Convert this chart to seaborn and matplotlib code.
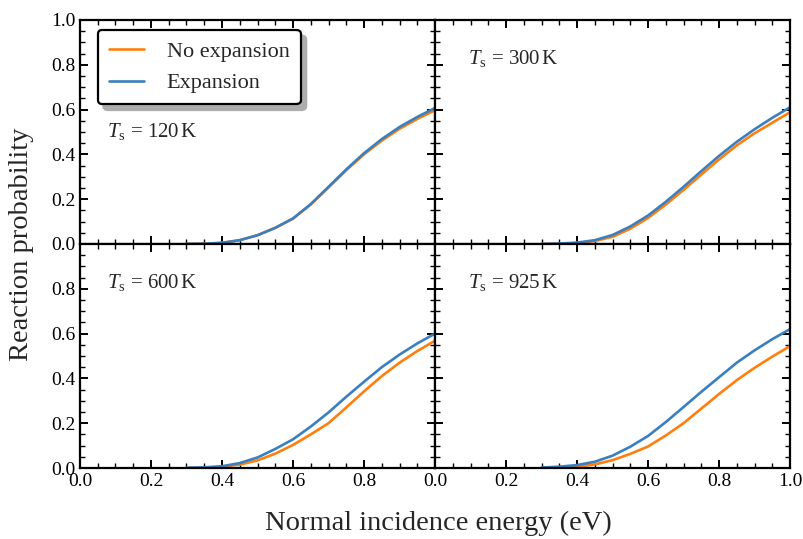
import numpy as np
import pandas as pd
import matplotlib
matplotlib.use("Agg")
import matplotlib.pyplot as plt
from matplotlib.ticker import MultipleLocator
import seaborn as sns

# Incidence energies (eV) shared by all curves
energy = [0.30, 0.35, 0.40, 0.45, 0.50, 0.55, 0.60, 0.65, 0.70,
          0.75, 0.80, 0.85, 0.90, 0.95, 1.00]

# Reaction probabilities per surface temperature
no_exp_120 = [0.0, 0.001, 0.005, 0.017, 0.039, 0.072, 0.113, 0.176, 0.252,
              0.329, 0.400, 0.461, 0.514, 0.558, 0.597]
exp_120 = [0.0, 0.001, 0.005, 0.017, 0.039, 0.072, 0.114, 0.178, 0.255,
           0.333, 0.405, 0.468, 0.522, 0.567, 0.607]

no_exp_300 = [0.0, 0.001, 0.004, 0.013, 0.032, 0.068, 0.116, 0.176, 0.241,
              0.310, 0.377, 0.440, 0.494, 0.541, 0.588]
exp_300 = [0.0, 0.002, 0.006, 0.017, 0.040, 0.078, 0.127, 0.188, 0.255,
           0.325, 0.393, 0.456, 0.512, 0.563, 0.610]

no_exp_600 = [0.0, 0.002, 0.005, 0.015, 0.034, 0.064, 0.103, 0.150, 0.200,
              0.270, 0.342, 0.410, 0.470, 0.522, 0.568]
exp_600 = [0.001, 0.003, 0.008, 0.022, 0.047, 0.085, 0.128, 0.185, 0.248,
           0.318, 0.385, 0.450, 0.506, 0.556, 0.600]

no_exp_925 = [0.0, 0.002, 0.006, 0.016, 0.035, 0.063, 0.096, 0.145, 0.200,
              0.265, 0.330, 0.392, 0.447, 0.497, 0.544]
exp_925 = [0.002, 0.006, 0.013, 0.028, 0.055, 0.095, 0.143, 0.205, 0.272,
           0.340, 0.405, 0.470, 0.525, 0.575, 0.620]

temperatures = [120, 300, 600, 925]
series_labels = ["No expansion", "Expansion"]
colors = {"No expansion": "#ff7f0e", "Expansion": "#3a7fc0"}

curves = {
    120: (no_exp_120, exp_120),
    300: (no_exp_300, exp_300),
    600: (no_exp_600, exp_600),
    925: (no_exp_925, exp_925),
}

rows = []
for T, (no_exp, exp) in curves.items():
    for lab, vals in zip(series_labels, (no_exp, exp)):
        for e, p in zip(energy, vals):
            rows.append({"Ts": T, "model": lab, "E": e, "P": p})
df = pd.DataFrame(rows)

sns.set_theme(style="ticks")
plt.rcParams["font.family"] = ["Liberation Serif", "DejaVu Serif"]
plt.rcParams["mathtext.fontset"] = "custom"
plt.rcParams["mathtext.rm"] = "Liberation Serif"
plt.rcParams["mathtext.it"] = "Liberation Serif:italic"

fig, axes = plt.subplots(2, 2, figsize=(8.04, 5.39), dpi=100)
fig.subplots_adjust(left=0.0995, right=0.9826, top=0.963, bottom=0.1317,
                    wspace=0.0, hspace=0.0)

text_pos = {120: (0.076, 0.50), 300: (0.093, 0.83),
            600: (0.076, 0.83), 925: (0.093, 0.83)}

for ax, T in zip(axes.flat, temperatures):
    sub = df[df["Ts"] == T]
    sns.lineplot(data=sub, x="E", y="P", hue="model", hue_order=series_labels,
                 palette=colors, linewidth=1.9, ax=ax, legend=(T == 120))
    ax.set_xlim(0, 1)
    ax.set_ylim(0, 1)
    ax.set_xlabel("")
    ax.set_ylabel("")
    ax.xaxis.set_major_locator(MultipleLocator(0.2))
    ax.xaxis.set_minor_locator(MultipleLocator(0.05))
    ax.yaxis.set_major_locator(MultipleLocator(0.2))
    ax.yaxis.set_minor_locator(MultipleLocator(0.05))
    ax.tick_params(which="both", direction="in", top=True, right=True,
                   bottom=True, left=True, colors="black", labelsize=14)
    ax.tick_params(which="major", length=6, width=1.4)
    ax.tick_params(which="minor", length=3.5, width=1.0)
    for sp in ax.spines.values():
        sp.set_linewidth(1.6)
        sp.set_color("black")
    tx, ty = text_pos[T]
    ax.text(tx, ty, r"$T_\mathrm{s}$ = " + f"{T}" + r"$\,$K",
            transform=ax.transAxes, fontsize=15, va="center", ha="left")

ticks = [0.0, 0.2, 0.4, 0.6, 0.8, 1.0]
for i in range(2):
    for j in range(2):
        ax = axes[i, j]
        ax.set_xticks(ticks)
        ax.set_yticks(ticks)
        if i == 1:
            xl = [f"{t:.1f}" for t in ticks]
            if j == 0:
                xl[-1] = ""
            ax.set_xticklabels(xl)
        else:
            ax.set_xticklabels([])
        if j == 0:
            yl = [f"{t:.1f}" for t in ticks]
            if i == 1:
                yl[-1] = ""
            ax.set_yticklabels(yl)
        else:
            ax.set_yticklabels([])

leg = axes[0, 0].legend(loc="upper left", bbox_to_anchor=(0.05, 0.955),
                        borderaxespad=0.0, fontsize=16, frameon=True,
                        fancybox=True, shadow={"color": "0.68", "alpha": 1.0,
                                               "ox": 4, "oy": -4},
                        framealpha=1.0, edgecolor="black",
                        handlelength=1.6, handletextpad=1.0,
                        borderpad=0.5, labelspacing=0.5)
leg.get_frame().set_linewidth(1.6)
for line in leg.get_lines():
    line.set_linewidth(1.9)

fig.text(0.545, 0.028, "Normal incidence energy (eV)", ha="center",
         va="center", fontsize=20.5)
fig.text(0.027, 0.547, "Reaction probability", ha="center", va="center",
         rotation=90, fontsize=20.5)

fig.savefig("out.png", dpi=100)
